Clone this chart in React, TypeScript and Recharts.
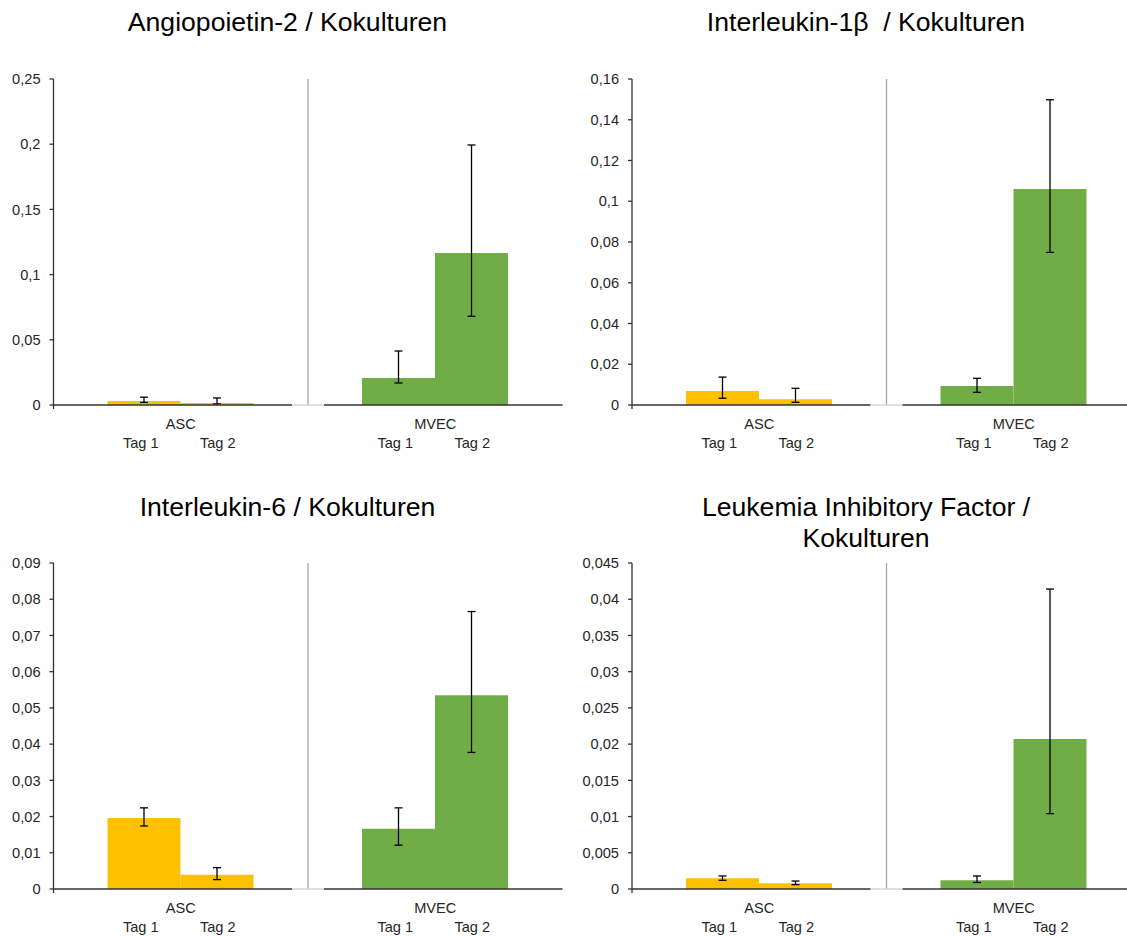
import { BarChart, Bar, XAxis, YAxis, ErrorBar, Cell, ReferenceLine } from "recharts";

const categories = ['ASC', 'MVEC'];
const tagNames = ['Tag 1', 'Tag 2'];
const groupColors = ['#FFC000', '#70AD47'];

// Angiopoietin-2
const ang2Tag1 = [0.0030, 0.0207];
const ang2Tag1Low = [0.0020, 0.0169];
const ang2Tag1High = [0.0060, 0.0414];
const ang2Tag2 = [0.0015, 0.1166];
const ang2Tag2Low = [0.0008, 0.0680];
const ang2Tag2High = [0.0054, 0.1994];
const ang2Ticks = [0, 0.05, 0.1, 0.15, 0.2, 0.25];

// Interleukin-1b
const il1bTag1 = [0.0069, 0.0093];
const il1bTag1Low = [0.0033, 0.0062];
const il1bTag1High = [0.0137, 0.0131];
const il1bTag2 = [0.0028, 0.1060];
const il1bTag2Low = [0.0013, 0.0749];
const il1bTag2High = [0.0082, 0.1498];
const il1bTicks = [0, 0.02, 0.04, 0.06, 0.08, 0.1, 0.12, 0.14, 0.16];

// Interleukin-6
const il6Tag1 = [0.0196, 0.0166];
const il6Tag1Low = [0.0174, 0.0121];
const il6Tag1High = [0.0224, 0.0224];
const il6Tag2 = [0.0039, 0.0535];
const il6Tag2Low = [0.0026, 0.0377];
const il6Tag2High = [0.0059, 0.0766];
const il6Ticks = [0, 0.01, 0.02, 0.03, 0.04, 0.05, 0.06, 0.07, 0.08, 0.09];

// Leukemia Inhibitory Factor
const lifTag1 = [0.0015, 0.0012];
const lifTag1Low = [0.0012, 0.0009];
const lifTag1High = [0.0018, 0.0018];
const lifTag2 = [0.0008, 0.0207];
const lifTag2Low = [0.0006, 0.0104];
const lifTag2High = [0.0011, 0.0414];
const lifTicks = [0, 0.005, 0.01, 0.015, 0.02, 0.025, 0.03, 0.035, 0.04, 0.045];

const FONT = '"Liberation Sans", Arial, sans-serif';
const CHART_H = 400;
const X_AXIS_H = 55;
const TOP_M = 19;
const BAND = 254.5;
const LABEL_SIZE = 14.6;

const fmt = (v: number) => String(v).replace('.', ',');

function CategoryTick(props: any) {
  const { x, y, payload, index } = props;
  const half = BAND / 2;
  const gap = 16;
  return (
    <g>
      {index === 0 ? (
        <>
          <line x1={x - half} y1={y} x2={x + half - gap} y2={y} stroke="#333" strokeWidth={1.3} />
          <line x1={x + half - gap} y1={y} x2={x + half} y2={y} stroke="#CFCFCF" strokeWidth={1.3} />
          <line x1={x - half} y1={y} x2={x - half} y2={y + 4} stroke="#333" strokeWidth={1.3} />
        </>
      ) : (
        <>
          <line x1={x - half} y1={y} x2={x - half + gap} y2={y} stroke="#CFCFCF" strokeWidth={1.3} />
          <line x1={x - half + gap} y1={y} x2={x + half} y2={y} stroke="#333" strokeWidth={1.3} />
        </>
      )}
      <text x={x} y={y + 23.5} textAnchor="middle" fontSize={LABEL_SIZE} fill="#262626" fontFamily={FONT}>
        {payload.value}
      </text>
      <text x={x - 40} y={y + 42.5} textAnchor="middle" fontSize={LABEL_SIZE} fill="#262626" fontFamily={FONT}>
        {tagNames[0]}
      </text>
      <text x={x + 37} y={y + 42.5} textAnchor="middle" fontSize={LABEL_SIZE} fill="#262626" fontFamily={FONT}>
        {tagNames[1]}
      </text>
    </g>
  );
}

type PanelProps = {
  title: string[];
  titleX: number;
  titleTop: number;
  left: number;
  top: number;
  yWidth: number;
  t1: number[]; t1Lo: number[]; t1Hi: number[];
  t2: number[]; t2Lo: number[]; t2Hi: number[];
  ticks: number[];
};

function Panel(p: PanelProps) {
  const width = p.yWidth + BAND * 2;
  const rows = categories.map((c, i) => ({
    name: c,
    tag1: p.t1[i],
    tag2: p.t2[i],
    err1: [p.t1[i] - p.t1Lo[i], p.t1Hi[i] - p.t1[i]],
    err2: [p.t2[i] - p.t2Lo[i], p.t2Hi[i] - p.t2[i]],
  }));
  return (
    <>
      <div
        style={{
          position: 'absolute',
          left: p.titleX - 250,
          top: p.titleTop,
          width: 500,
          textAlign: 'center',
          fontSize: 26.6,
          lineHeight: '31px',
          color: '#000',
          whiteSpace: 'pre',
          zIndex: 2,
        }}
      >
        {p.title.map((t, i) => (
          <div key={i}>{t}</div>
        ))}
      </div>
      <div style={{ position: 'absolute', left: p.left, top: p.top }}>
        <BarChart
          width={width}
          height={CHART_H}
          data={rows}
          margin={{ top: TOP_M, right: 0, bottom: 0, left: 0 }}
          barGap={0}
        >
          <XAxis
            dataKey="name"
            height={X_AXIS_H}
            axisLine={false}
            tickLine={false}
            tickSize={0}
            tickMargin={0}
            interval={0}
            tick={(tp: any) => <CategoryTick {...tp} />}
          />
          <YAxis
            width={p.yWidth}
            domain={[0, p.ticks[p.ticks.length - 1]]}
            ticks={p.ticks}
            tickFormatter={fmt}
            axisLine={{ stroke: '#333', strokeWidth: 1.3 }}
            tickLine={{ stroke: '#333', strokeWidth: 1.3 }}
            tickSize={4}
            tickMargin={9}
            tick={{ fontSize: LABEL_SIZE, fill: '#262626', fontFamily: FONT }}
          />
          <ReferenceLine x="ASC" position="end" stroke="#A6A6A6" strokeWidth={1.3} />
          <Bar dataKey="tag1" barSize={73} isAnimationActive={false}>
            {rows.map((r, i) => (
              <Cell key={r.name} fill={groupColors[i]} />
            ))}
            <ErrorBar dataKey="err1" width={4} stroke="#000" strokeWidth={1.3} direction="y" />
          </Bar>
          <Bar dataKey="tag2" barSize={73} isAnimationActive={false}>
            {rows.map((r, i) => (
              <Cell key={r.name} fill={groupColors[i]} />
            ))}
            <ErrorBar dataKey="err2" width={4} stroke="#000" strokeWidth={1.3} direction="y" />
          </Bar>
        </BarChart>
      </div>
    </>
  );
}

export default function App() {
  return (
    <div
      style={{
        position: 'absolute',
        left: 0,
        top: 0,
        width: 1127,
        height: 936,
        overflow: 'hidden',
        background: '#fff',
        fontFamily: FONT,
      }}
    >
      <Panel
        title={['Angiopoietin-2 / Kokulturen']}
        titleX={287.5}
        titleTop={6.5}
        left={0}
        top={60}
        yWidth={53.5}
        t1={ang2Tag1} t1Lo={ang2Tag1Low} t1Hi={ang2Tag1High}
        t2={ang2Tag2} t2Lo={ang2Tag2Low} t2Hi={ang2Tag2High}
        ticks={ang2Ticks}
      />
      <Panel
        title={['Interleukin-1\u03B2  / Kokulturen']}
        titleX={866}
        titleTop={6.5}
        left={560}
        top={60}
        yWidth={72}
        t1={il1bTag1} t1Lo={il1bTag1Low} t1Hi={il1bTag1High}
        t2={il1bTag2} t2Lo={il1bTag2Low} t2Hi={il1bTag2High}
        ticks={il1bTicks}
      />
      <Panel
        title={['Interleukin-6 / Kokulturen']}
        titleX={287.5}
        titleTop={491.5}
        left={0}
        top={544}
        yWidth={53.5}
        t1={il6Tag1} t1Lo={il6Tag1Low} t1Hi={il6Tag1High}
        t2={il6Tag2} t2Lo={il6Tag2Low} t2Hi={il6Tag2High}
        ticks={il6Ticks}
      />
      <Panel
        title={['Leukemia Inhibitory Factor /', 'Kokulturen']}
        titleX={866}
        titleTop={491.5}
        left={560}
        top={544}
        yWidth={72}
        t1={lifTag1} t1Lo={lifTag1Low} t1Hi={lifTag1High}
        t2={lifTag2} t2Lo={lifTag2Low} t2Hi={lifTag2High}
        ticks={lifTicks}
      />
    </div>
  );
}
